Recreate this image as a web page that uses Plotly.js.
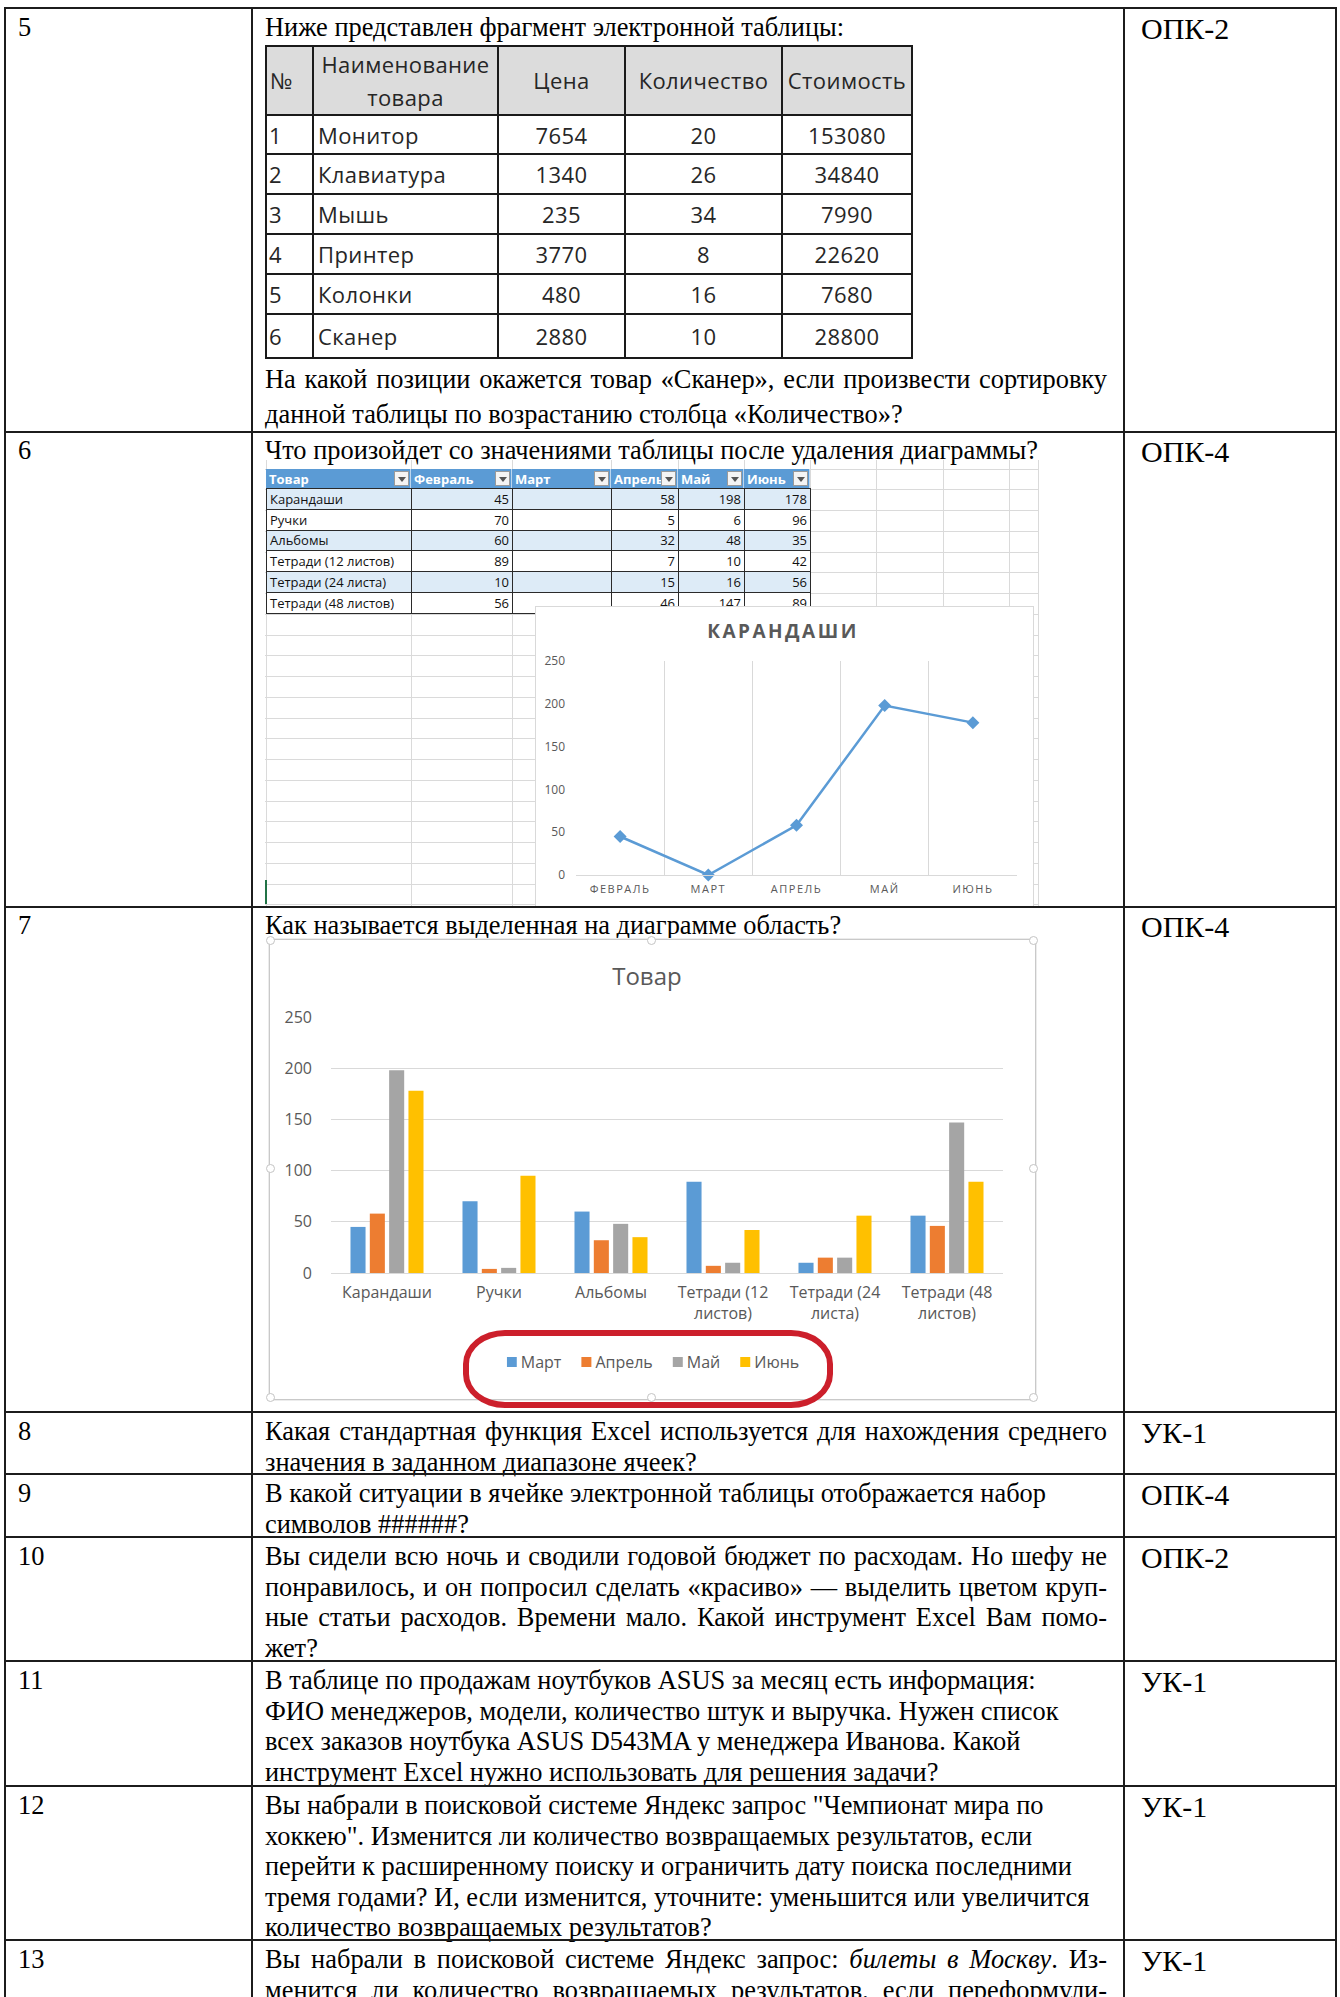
<!DOCTYPE html>
<html lang="ru">
<head>
<meta charset="utf-8">
<script src="https://cdn.plot.ly/plotly-3.0.1.min.js"></script>
<style>
html,body{margin:0;padding:0;background:#fff}
#page{position:relative;width:1340px;height:1997px;overflow:hidden;font-family:"Liberation Serif","Times New Roman",serif;color:#000}
.ab{position:absolute}
.hl{position:absolute;height:2px;background:#1c1c1c;z-index:6}
.vl{position:absolute;width:2px;background:#1c1c1c;z-index:6}
.num{position:absolute;left:18px;font-size:26.4px;line-height:30.5px}
.q{position:absolute;left:265px;width:842px;font-size:26.4px;line-height:30.5px}
.q div{white-space:nowrap}
.q div.j{text-align:justify;text-align-last:justify;white-space:normal}
.code{position:absolute;left:1141px;font-size:30px;line-height:34px}
.cell{position:absolute;box-sizing:border-box;display:flex;align-items:center;overflow:hidden;white-space:nowrap}
.t5{font-family:"Open Sans",sans-serif;font-size:22px;letter-spacing:0.4px;color:#262626}
.sn{font-family:"Open Sans",sans-serif;font-size:13px;color:#111}
.gh{position:absolute;height:1px;background:#dadada}
.gv{position:absolute;width:1px;background:#dadada}
.fbtn{position:absolute;width:15px;height:15px;box-sizing:border-box;background:#f4f4f4;border:1px solid #9a9a9a;z-index:3}
.fbtn:after{content:"";position:absolute;left:3px;top:5px;border-left:4px solid transparent;border-right:4px solid transparent;border-top:5px solid #555}
.handle{position:absolute;width:9px;height:9px;box-sizing:border-box;background:#fff;border:1px solid #c4c4c4;border-radius:50%;z-index:4}
#lineChart .gtitle{letter-spacing:2.5px}
#lineChart .xtick text{letter-spacing:1.5px}
</style>
</head>
<body>
<div id="page"></div>
<script>
// ================= DATA =================
// Row 5 table
const t5Header = ["№", "Наименование<br>товара", "Цена", "Количество", "Стоимость"];
const t5Num = [1, 2, 3, 4, 5, 6];
const t5Name = ["Монитор", "Клавиатура", "Мышь", "Принтер", "Колонки", "Сканер"];
const t5Price = [7654, 1340, 235, 3770, 480, 2880];
const t5Qty = [20, 26, 34, 8, 16, 10];
const t5Cost = [153080, 34840, 7990, 22620, 7680, 28800];

// Row 6 spreadsheet fragment
const snipHeader = ["Товар", "Февраль", "Март", "Апрель", "Май", "Июнь"];
const snipGoods = ["Карандаши", "Ручки", "Альбомы", "Тетради (12 листов)", "Тетради (24 листа)", "Тетради (48 листов)"];
const snipFeb = [45, 70, 60, 89, 10, 56];
const snipMar = [null, null, null, null, null, null];
const snipApr = [58, 5, 32, 7, 15, 46];
const snipMay = [198, 6, 48, 10, 16, 147];
const snipJun = [178, 96, 35, 42, 56, 89];

// Row 6 line chart
const lineTitle = "КАРАНДАШИ";
const lineMonths = ["ФЕВРАЛЬ", "МАРТ", "АПРЕЛЬ", "МАЙ", "ИЮНЬ"];
const linePencils = [45, 0, 58, 198, 178];

// Row 7 bar chart
const barTitle = "Товар";
const barCategories = ["Карандаши", "Ручки", "Альбомы", "Тетради (12<br>листов)", "Тетради (24<br>листа)", "Тетради (48<br>листов)"];
const barSeries = ["Март", "Апрель", "Май", "Июнь"];
const barMart = [45, 70, 60, 89, 10, 56];
const barApr = [58, 4, 32, 7, 15, 46];
const barMay = [198, 5, 48, 10, 15, 147];
const barJun = [178, 95, 35, 42, 56, 89];

// Document rows
const rowNumbers = ["5", "6", "7", "8", "9", "10", "11", "12", "13"];
const rowCodes = ["ОПК-2", "ОПК-4", "ОПК-4", "УК-1", "ОПК-4", "ОПК-2", "УК-1", "УК-1", "УК-1"];

// ================= BUILD =================
const page = document.getElementById('page');
function el(cls, style, html, parent) {
  const d = document.createElement('div');
  if (cls) d.className = cls;
  Object.assign(d.style, style || {});
  if (html !== undefined) d.innerHTML = html;
  (parent || page).appendChild(d);
  return d;
}
const px = v => v + 'px';

// table borders
const hY = [7, 431, 906, 1411, 1473, 1536, 1660, 1785, 1939];
hY.forEach(y => el('hl', {left: '4px', top: px(y), width: '1333px'}));
[4, 251, 1123, 1335].forEach(x => el('vl', {left: px(x), top: '7px', height: '1990px'}));

// numbers and codes
const textTop = [12, 435, 910, 1416, 1478, 1541, 1665, 1790, 1944];
rowNumbers.forEach((n, i) => el('num', {top: px(textTop[i])}, n));
rowCodes.forEach((c, i) => el('code', {top: px(textTop[i])}, c));

// question texts
function q(top, lines, lh) {
  const d = el('q', {top: px(top)});
  if (lh) d.style.lineHeight = px(lh);
  lines.forEach(l => {
    const r = document.createElement('div');
    if (l[1]) r.className = 'j';
    r.innerHTML = l[0];
    d.appendChild(r);
  });
}
q(12, [["Ниже представлен фрагмент электронной таблицы:", 0]]);
q(362, [["На какой позиции окажется товар «Сканер», если произвести сортировку", 1],
        ["данной таблицы по возрастанию столбца «Количество»?", 0]], 35);
q(435, [["Что произойдет со значениями таблицы после удаления диаграммы?", 0]]);
q(910, [["Как называется выделенная на диаграмме область?", 0]]);
q(1416, [["Какая стандартная функция Excel используется для нахождения среднего", 1],
         ["значения в заданном диапазоне ячеек?", 0]]);
q(1478, [["В какой ситуации в ячейке электронной таблицы отображается набор", 0],
         ["символов ######?", 0]]);
q(1541, [["Вы сидели всю ночь и сводили годовой бюджет по расходам. Но шефу не", 1],
         ["понравилось, и он попросил сделать «красиво» — выделить цветом круп-", 1],
         ["ные статьи расходов. Времени мало. Какой инструмент Excel Вам помо-", 1],
         ["жет?", 0]]);
q(1665, [["В таблице по продажам ноутбуков ASUS за месяц есть информация:", 0],
         ["ФИО менеджеров, модели, количество штук и выручка. Нужен список", 0],
         ["всех заказов ноутбука ASUS D543MA у менеджера Иванова. Какой", 0],
         ["инструмент Excel нужно использовать для решения задачи?", 0]]);
q(1790, [["Вы набрали в поисковой системе Яндекс запрос \"Чемпионат мира по", 0],
         ["хоккею\". Изменится ли количество возвращаемых результатов, если", 0],
         ["перейти к расширенному поиску и ограничить дату поиска последними", 0],
         ["тремя годами? И, если изменится, уточните: уменьшится или увеличится", 0],
         ["количество возвращаемых результатов?", 0]]);
q(1944, [["Вы набрали в поисковой системе Яндекс запрос: <i>билеты в Москву</i>. Из-", 1],
         ["менится ли количество возвращаемых результатов, если переформули-", 1]]);

// ---- Row 5 table (cells from arrays) ----
(function () {
  const colX = [265, 312, 497, 624, 781, 911];
  const rowY = [45, 114, 153, 193, 233, 273, 313, 357];
  const cols = [t5Num, t5Name, t5Price, t5Qty, t5Cost];
  const align = ['flex-start', 'flex-start', 'center', 'center', 'center'];
  for (let r = 0; r < 7; r++) {
    for (let c = 0; c < 5; c++) {
      const st = {left: px(colX[c]), top: px(rowY[r]), width: px(colX[c + 1] - colX[c] + 2),
        height: px(rowY[r + 1] - rowY[r] + 2), border: '2px solid #1a1a1a'};
      let txt;
      if (r === 0) {
        st.background = '#dcdcdc'; st.justifyContent = c === 0 ? 'flex-start' : 'center';
        st.textAlign = 'center'; st.lineHeight = '33px'; st.whiteSpace = 'normal';
        st.paddingLeft = c === 0 ? '3px' : '0';
        txt = t5Header[c];
      } else {
        st.justifyContent = align[c];
        st.paddingLeft = c < 2 ? (c === 0 ? '2px' : '4px') : '0';
        txt = String(cols[c][r - 1]);
      }
      el('cell t5', st, txt);
    }
  }
})();

// ---- Row 6 spreadsheet grid (background) ----
(function () {
  for (let k = 0; k < 22; k++) {
    const y = 468.5 + 20.75 * k;
    if (y > 905) break;
    el('gh', {left: '265px', top: px(y), width: '773px'});
  }
  [266, 411, 512, 611, 678, 744, 810, 876, 943, 1009, 1038].forEach(x =>
    el('gv', {left: px(x), top: '460px', height: '446px'}));
  el('ab', {left: '265px', top: '880px', width: '2px', height: '24px', background: '#217346'});
})();

// ---- Row 6 spreadsheet fragment (cells from arrays) ----
(function () {
  const colX = [266, 411, 512, 611, 678, 744, 810];
  const rowY = [469, 488];
  for (let i = 1; i <= 6; i++) rowY.push(488 + 20.8 * i);
  const cols = [snipGoods, snipFeb, snipMar, snipApr, snipMay, snipJun];
  for (let c = 0; c < 6; c++) {
    el('cell sn', {left: px(colX[c]), top: px(rowY[0]), width: px(colX[c + 1] - colX[c]), height: px(rowY[1] - rowY[0]),
      background: '#5b9bd5', color: '#fff', fontWeight: '700', paddingLeft: '3px', zIndex: 2,
      borderRight: '1px solid #bcd6ee'}, snipHeader[c]);
    el('fbtn', {left: px(colX[c + 1] - 17), top: px(rowY[0] + 2)});
  }
  for (let r = 0; r < 6; r++) {
    for (let c = 0; c < 6; c++) {
      const v = cols[c][r];
      el('cell sn', {left: px(colX[c]), top: px(rowY[r + 1]), width: px(colX[c + 1] - colX[c] + 1),
        height: px(rowY[r + 2] - rowY[r + 1] + 1), background: r % 2 === 0 ? '#ddebf7' : '#ffffff',
        border: '1px solid #2a2a2a', justifyContent: c === 0 ? 'flex-start' : 'flex-end',
        padding: c === 0 ? '0 0 0 3px' : '0 3px 0 0', zIndex: 2},
        v === null ? '' : String(v));
    }
  }
})();

// ---- Row 6 line chart ----
el('ab', {left: '535px', top: '606px', width: '497px', height: '300px', border: '1px solid #d9d9d9', background: '#fff', zIndex: 5});
const lineDiv = el('ab', {left: '536px', top: '607px', width: '497px', height: '298px', zIndex: 5});
lineDiv.id = 'lineChart';

Plotly.newPlot(lineDiv, [{
  type: 'scatter', mode: 'lines+markers', x: lineMonths, y: linePencils,
  line: {color: '#5b9bd5', width: 2.5},
  marker: {symbol: 'diamond', size: 10, color: '#5b9bd5'},
  cliponaxis: false
}], {
  width: 497, height: 298,
  margin: {l: 40, r: 16, t: 54, b: 30},
  paper_bgcolor: 'rgba(0,0,0,0)', plot_bgcolor: 'rgba(0,0,0,0)',
  font: {family: '"Open Sans", sans-serif', color: '#595959'},
  title: {text: lineTitle, font: {size: 19, color: '#595959', weight: 700},
    x: 0.497, xanchor: 'center', xref: 'container', y: 1 - 24 / 298, yanchor: 'middle', yref: 'container'},
  xaxis: {type: 'category', tickson: 'boundaries', showgrid: true, gridcolor: '#d9d9d9', gridwidth: 1,
    showline: true, linecolor: '#d9d9d9', linewidth: 1, ticks: '', range: [-0.5, 4.5],
    tickfont: {size: 11, color: '#595959'}, ticklabelstandoff: 4},
  yaxis: {range: [0, 250], dtick: 50, showgrid: false, zeroline: false, showline: false, ticks: '',
    tickfont: {size: 12, color: '#595959'}, ticklabelstandoff: 10},
  showlegend: false
}, {staticPlot: true, displayModeBar: false});

// ---- Row 7 bar chart ----
el('ab', {left: '269px', top: '939px', width: '765px', height: '459px', border: '1px solid #c9c9c9', background: '#fff', boxShadow: '0 0 0 1px #ececec', zIndex: 1});
const barDiv = el('ab', {left: '270px', top: '940px', width: '763px', height: '457px', zIndex: 2});
barDiv.id = 'barChart';
const barColors = ['#5b9bd5', '#ed7d31', '#a5a5a5', '#ffc000'];
const barValues = [barMart, barApr, barMay, barJun];
Plotly.newPlot(barDiv, barSeries.map((n, i) => ({
  type: 'bar', name: n, x: barCategories, y: barValues[i], marker: {color: barColors[i]}
})), {
  width: 763, height: 457,
  margin: {l: 61, r: 30, t: 77, b: 124},
  paper_bgcolor: 'rgba(0,0,0,0)', plot_bgcolor: 'rgba(0,0,0,0)',
  font: {family: '"Open Sans", sans-serif', color: '#595959'},
  title: {text: barTitle, font: {size: 24, color: '#595959'},
    x: 0.494, xanchor: 'center', xref: 'container', y: 1 - 37 / 457, yanchor: 'middle', yref: 'container'},
  barmode: 'group', bargap: 0.31, bargroupgap: 0.22,
  xaxis: {type: 'category', showgrid: false, showline: false, ticks: '',
    tickfont: {size: 16, color: '#595959'}, ticklabelstandoff: 8},
  yaxis: {range: [0, 250], dtick: 50, gridcolor: '#d9d9d9', gridwidth: 1, zeroline: true, zerolinecolor: '#d9d9d9',
    showline: false, ticks: '', tickfont: {size: 16, color: '#595959'}, ticklabelstandoff: 18},
  legend: {orientation: 'h', x: 0.502, xanchor: 'center', xref: 'container', y: 1 - 422 / 457, yanchor: 'middle',
    yref: 'container', font: {size: 16, color: '#595959'}, itemwidth: 30, traceorder: 'normal'},
  showlegend: true
}, {staticPlot: true, displayModeBar: false}).then(function (gd) {
  // tighten the legend spacing to the Excel look (square, small gap, text)
  try {
    const leg = gd.querySelector('g.legend');
    const items = Array.from(gd.querySelectorAll('g.legend g.traces'));
    if (!leg || !items.length) return;
    const parse = s => { const m = /translate\(\s*([-\d.e]+)[\s,]+([-\d.e]+)\s*\)/.exec(s || ''); return m ? [parseFloat(m[1]), parseFloat(m[2])] : [0, 0]; };
    const SYM = 10, GAP = 4, ITEMGAP = 20;
    const x0 = parse(items[0].getAttribute('transform'))[0];
    let x = x0;
    items.forEach(g => {
      const y = parse(g.getAttribute('transform'))[1];
      g.querySelectorAll('.legendpoints path').forEach(p => {
        p.setAttribute('d', 'M5,5H-5V-5H5Z');
        p.setAttribute('transform', 'translate(5,0)');
      });
      const t = g.querySelector('text.legendtext');
      let tw = 0;
      if (t) { t.setAttribute('x', SYM + GAP); tw = t.getComputedTextLength(); }
      g.setAttribute('transform', 'translate(' + x + ',' + y + ')');
      x += SYM + GAP + tw + ITEMGAP;
    });
    const total = x - ITEMGAP - x0;
    const ly = parse(leg.getAttribute('transform'))[1];
    const centerX = 383;
    leg.setAttribute('transform', 'translate(' + (centerX - x0 - total / 2) + ',' + ly + ')');
  } catch (e) {}
});

// selection handles of chart frame
[[651, 940], [651, 1397], [270, 1168], [1033, 1168], [270, 940], [1033, 940], [270, 1397], [1033, 1397]]
  .forEach(p => el('handle', {left: px(p[0] - 4.5), top: px(p[1] - 4.5)}));

// red highlight around legend
el('ab', {left: '463px', top: '1330px', width: '370px', height: '78px', boxSizing: 'border-box',
  border: '6px solid #cc1f2b', borderRadius: '42px / 34px', zIndex: 7});
</script>
</body>
</html>
